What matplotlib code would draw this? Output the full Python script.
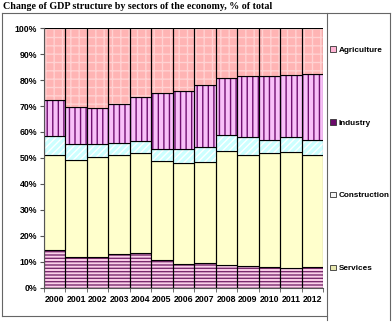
import matplotlib.pyplot as plt
import numpy as np
from matplotlib.patches import Patch
from matplotlib.lines import Line2D

plt.rcParams['font.family'] = ['Liberation Sans', 'DejaVu Sans']
plt.rcParams['hatch.linewidth'] = 1.0

# values, % of total
years = ['2000', '2001', '2002', '2003', '2004', '2005', '2006',
         '2007', '2008', '2009', '2010', '2011', '2012']
net_taxes = [14.5, 11.7, 11.7, 12.9, 13.3, 10.7, 9.0, 9.4, 8.9, 8.2, 7.9, 7.6, 8.1]
services = [36.8, 37.5, 38.8, 38.1, 38.5, 38.0, 39.2, 39.0, 43.9, 43.0, 43.9, 44.8, 42.9]
construction = [7.1, 6.2, 4.8, 4.7, 4.9, 4.9, 5.1, 5.7, 6.2, 7.0, 5.1, 5.8, 5.9]
industry = [14.0, 14.4, 13.9, 15.2, 16.7, 21.3, 22.4, 24.0, 21.7, 23.4, 24.7, 23.9, 25.5]
agriculture = [27.6, 30.2, 30.8, 29.1, 26.6, 25.1, 24.3, 21.9, 19.3, 18.4, 18.4, 17.9, 17.6]

series = [net_taxes, services, construction, industry, agriculture]
# (face colour, hatch, hatch colour)
styles = [('#fbd0ea', '-----', '#7a2a6e'),
          ('#ffffcc', None, None),
          ('#ccffff', '/////', '#ffffff'),
          ('#f8c0f8', '|||', '#701070'),
          ('#ffb4b4', '++', '#ffd2d2')]

fig = plt.figure(figsize=(3.92, 3.27), dpi=100)
ax = fig.add_axes([0.112, 0.120, 0.712, 0.794])

x = np.arange(len(years))
data = np.array(series, dtype=float)
data = data / data.sum(axis=0) * 100
bottom = np.zeros(len(years))
for vals, (fc, hatch, hc) in zip(data, styles):
    if hatch:
        ax.bar(x, vals, 1.0, bottom=bottom, color=fc, hatch=hatch,
               edgecolor=hc, linewidth=0)
    else:
        ax.bar(x, vals, 1.0, bottom=bottom, color=fc, linewidth=0)
    ax.bar(x, vals, 1.0, bottom=bottom, fill=False, edgecolor='black', linewidth=0.8)
    bottom += vals

ax.set_xlim(-0.5, len(years) - 0.5)
ax.set_ylim(0, 100)
ax.set_yticks(np.arange(0, 101, 10))
ax.set_yticklabels([f'{v}%' for v in range(0, 101, 10)])
ax.set_xticks(x)
ax.set_xticklabels(years)
ax.set_xticks(np.arange(-0.5, len(years), 1), minor=True)
ax.tick_params(axis='x', which='major', length=0, pad=5)
ax.tick_params(axis='x', which='minor', length=3, color='#555555')
ax.tick_params(axis='y', length=3, color='#555555', pad=2)
for lab in ax.get_xticklabels() + ax.get_yticklabels():
    lab.set_fontsize(6.3)
    lab.set_fontweight('bold')
for s in ['top', 'right']:
    ax.spines[s].set_visible(False)
for s in ['left', 'bottom']:
    ax.spines[s].set_color('#555555')
    ax.spines[s].set_linewidth(0.8)

# legend (entries for top four series)
handles = [Patch(facecolor='#ffb4d4', edgecolor='#333333', linewidth=0.6),
           Patch(facecolor='#6a0a6a', edgecolor='#333333', linewidth=0.6),
           Patch(facecolor='#f4f4f4', edgecolor='#333333', linewidth=0.6),
           Patch(facecolor='#e8e8b0', edgecolor='#333333', linewidth=0.6)]
labels = ['Agriculture', 'Industry', 'Construction', 'Services']
leg = fig.legend(handles, labels, loc='upper left', bbox_to_anchor=(330 / 392, 1 - 46 / 327),
                 frameon=False, borderpad=0, borderaxespad=0, labelspacing=7.95,
                 handlelength=0.7, handleheight=0.7, handletextpad=0.35,
                 prop={'size': 5.9, 'weight': 'bold'})

# frame around the chart and the legend box
W, H = 392, 327
def fline(x0, y0, x1, y1):
    fig.add_artist(Line2D([x0 / W, x1 / W], [1 - y0 / H, 1 - y1 / H],
                          color='#666666', linewidth=0.8))
fline(2, 13, 390, 13)
fline(2, 13, 2, 316)
fline(2, 316, 327, 316)
fline(327, 13, 327, 320)
fline(390, 13, 390, 320)

# title
fig.text(3 / W, 1 - 9 / H, 'Change of GDP structure by sectors of the economy, % of total',
         ha='left', va='baseline', fontsize=7.2, fontweight='bold',
         family=['Liberation Serif', 'DejaVu Serif'])

fig.savefig('out.png', dpi=100)
